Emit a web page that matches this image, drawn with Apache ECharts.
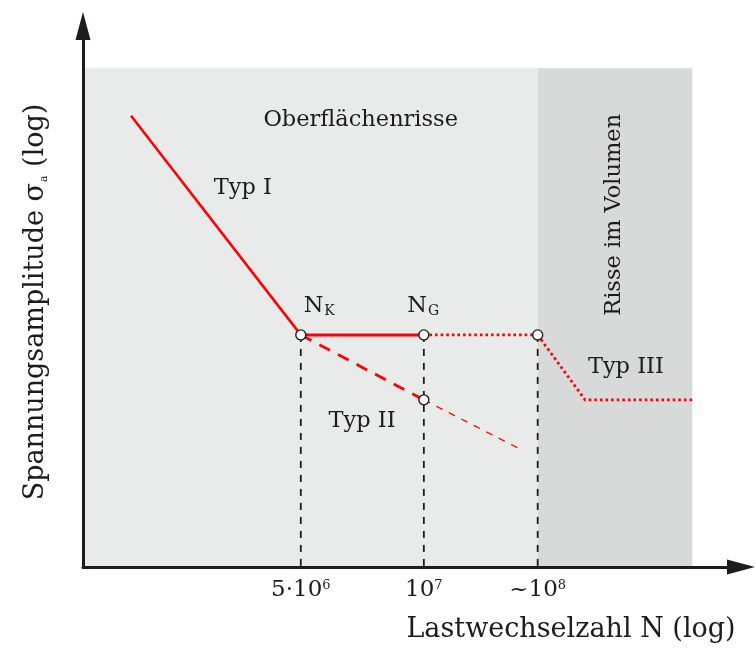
<!DOCTYPE html>
<html>
<head>
<meta charset="utf-8">
<script src="https://cdn.jsdelivr.net/npm/echarts@6/dist/echarts.min.js"></script>
<style>
html,body{margin:0;padding:0;background:#fff;}
#chart{width:756px;height:653px;}
</style>
</head>
<body>
<div id="chart"></div>
<script>
// ---- schematic data (axis units: 0..100 on both axes, log-like schematic) ----
const knotX = [33.1, 51.8, 69.1];                 // N_K = 5·10^6, N_G = 10^7, ~10^8
const tickLabels = ['5·10{sup|6}', '10{sup|7}', '~10{sup|8}'];
const plateauY = 42.9;                            // fatigue-limit level
const typ1 = [[7.3, 83.4], [33.1, 42.9]];
const plateauSolid = [[33.1, 42.9], [51.8, 42.9]];
const plateauDotted = [[51.8, 42.9], [69.1, 42.9]];
const typ3 = [[69.1, 42.9], [76.3, 30.9], [92.6, 30.9]];
const typ2Thick = [[33.1, 42.9], [51.8, 30.9]];
const typ2Thin = [[51.8, 30.9], [66.1, 22.0]];
const circles = [[33.1, 42.9], [51.8, 42.9], [69.1, 42.9], [51.8, 30.9]];
const regions = [[0, 69.1, 0, 92.2], [69.1, 92.6, 0, 92.2]]; // x0, x1, y0, y1
const regionColors = ['#e9eaea', '#d8d9d9'];
const annotations = [
  {text: 'Oberflächenrisse', pos: [42.2, 82.6], rot: 0},
  {text: 'Typ I', pos: [24.3, 70.1], rot: 0},
  {text: '{n|N}{s|K}', pos: [35.9, 48.2], rot: 0},
  {text: '{n|N}{s|G}', pos: [51.7, 48.2], rot: 0},
  {text: 'Typ II', pos: [42.4, 27.0], rot: 0},
  {text: 'Typ III', pos: [82.5, 37.0], rot: 0},
  {text: 'Risse im Volumen', pos: [80.7, 65.1], rot: 90}
];

const FONT = '"DejaVu Serif", "Liberation Serif", serif';
const INK = '#1e1b1c';
const RED = '#ff0000';

const chart = echarts.init(document.getElementById('chart'), null, {renderer: 'canvas'});

const axisLineStyle = {
  show: true,
  symbol: ['none', 'triangle'],
  symbolSize: [15, 28],
  lineStyle: {color: INK, width: 3}
};

const series = [];
// shaded regions
series.push({
  type: 'custom',
  z: 1,
  silent: true,
  data: regions.map((r, i) => [r[0], r[1], r[2], r[3], i]),
  renderItem: function (params, api) {
    const p0 = api.coord([api.value(0), api.value(3)]);
    const p1 = api.coord([api.value(1), api.value(2)]);
    return {
      type: 'rect',
      shape: {x: p0[0], y: p0[1], width: p1[0] - p0[0], height: p1[1] - p0[1]},
      style: {fill: regionColors[api.value(4)]}
    };
  },
  encode: {x: [0, 1], y: [2, 3]}
});
// vertical dashed guide lines
knotX.forEach(function (x) {
  series.push({
    type: 'line', z: 3, silent: true, symbol: 'none',
    data: [[x, plateauY], [x, 0]],
    lineStyle: {color: INK, width: 1.8, type: [7, 7]}
  });
});
function redLine(data, width, type, z) {
  series.push({
    type: 'line', z: z || 4, silent: true, symbol: 'none', data: data,
    lineStyle: {color: RED, width: width, type: type, cap: 'butt'}
  });
}
redLine(typ1, 2.6, 'solid');
redLine(plateauSolid, 3, 'solid');
redLine(plateauDotted, 2.8, [2.6, 3]);
redLine(typ3, 2.8, [2.6, 3]);
redLine(typ2Thick, 2.8, [12, 9]);
redLine(typ2Thin, 1.3, [7, 7]);
// knot circles
series.push({
  type: 'scatter', z: 6, silent: true,
  symbol: 'circle', symbolSize: 10,
  itemStyle: {color: '#ffffff', borderColor: INK, borderWidth: 1.4, opacity: 1},
  data: circles
});
// annotations
series.push({
  type: 'scatter', z: 7, silent: true, symbolSize: 0,
  itemStyle: {opacity: 1},
  data: annotations.map(function (a) {
    return {value: a.pos, label: {formatter: a.text, rotate: a.rot}};
  }),
  label: {
    show: true, position: 'inside', opacity: 1,
    fontFamily: FONT, fontSize: 22.5, color: INK,
    textBorderWidth: 0,
    rich: {
      n: {fontFamily: FONT, fontSize: 22.5, color: INK, lineHeight: 24, verticalAlign: 'top'},
      s: {fontFamily: FONT, fontSize: 14, color: INK, lineHeight: 14, padding: [14, 0, 0, 1], verticalAlign: 'bottom'}
    }
  }
});

chart.setOption({
  animation: false,
  backgroundColor: '#ffffff',
  grid: {left: 83, right: 15, top: 26, bottom: 86, containLabel: false, outerBoundsMode: 'none'},
  xAxis: {
    type: 'value', min: 0, max: 100, z: 10,
    axisLine: axisLineStyle,
    axisTick: {show: false},
    splitLine: {show: false},
    axisLabel: {
      show: true,
      customValues: knotX,
      margin: 12,
      fontFamily: FONT, fontSize: 23, color: INK,
      formatter: function (value) {
        const i = knotX.indexOf(value);
        return i >= 0 ? tickLabels[i] : '';
      },
      rich: {
        sup: {fontFamily: FONT, fontSize: 13, color: INK, verticalAlign: 'top', lineHeight: 12}
      }
    }
  },
  yAxis: {
    type: 'value', min: 0, max: 100, z: 10,
    axisLine: axisLineStyle,
    axisTick: {show: false},
    splitLine: {show: false},
    axisLabel: {show: false}
  },
  series: series,
  graphic: [
    {
      type: 'text', x: 571, y: 630, z: 20,
      style: {
        text: 'Lastwechselzahl N (log)',
        font: '27px ' + FONT, fill: INK,
        align: 'center', verticalAlign: 'middle'
      }
    },
    {
      type: 'text', x: 36, y: 302, rotation: Math.PI / 2, z: 20,
      style: {
        text: 'Spannungsamplitude σ{s|a} (log)',
        font: '27px ' + FONT, fill: INK,
        align: 'center', verticalAlign: 'middle',
        rich: {
          s: {fontFamily: FONT, fontSize: 11, fill: INK, padding: [16, 0, 0, 1], lineHeight: 11, verticalAlign: 'bottom'}
        }
      }
    }
  ]
});
</script>
</body>
</html>
